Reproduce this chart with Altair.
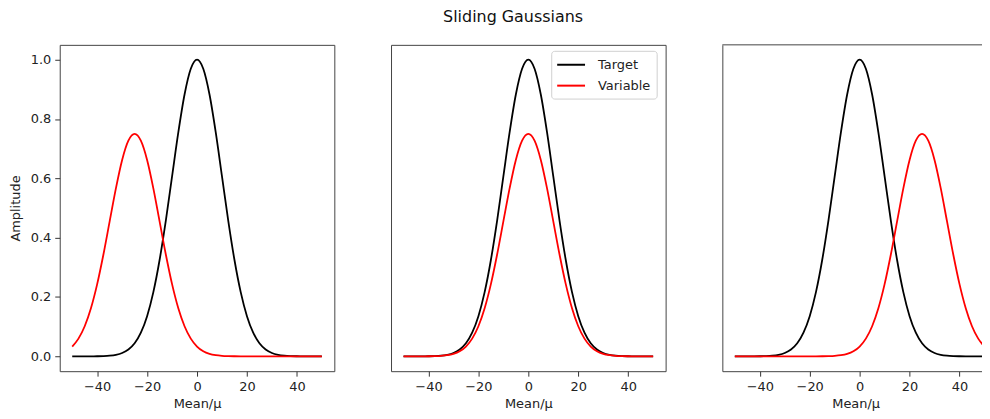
import altair as alt
import pandas as pd

# x positions (Mean / mu) sampled every 2.5 units
x_vals = [-50, -47.5, -45, -42.5, -40, -37.5, -35, -32.5, -30, -27.5, -25, -22.5, -20,
          -17.5, -15, -12.5, -10, -7.5, -5, -2.5, 0, 2.5, 5, 7.5, 10, 12.5, 15, 17.5,
          20, 22.5, 25, 27.5, 30, 32.5, 35, 37.5, 40, 42.5, 45, 47.5, 50]

# Target curve (same in every panel)
target = [0.0000, 0.00001, 0.00004, 0.00012, 0.00034, 0.00088, 0.0022, 0.0051, 0.0111,
          0.0228, 0.0439, 0.0796, 0.1353, 0.2163, 0.3247, 0.4578, 0.6065, 0.7548, 0.8825,
          0.9692, 1.0000, 0.9692, 0.8825, 0.7548, 0.6065, 0.4578, 0.3247, 0.2163, 0.1353,
          0.0796, 0.0439, 0.0228, 0.0111, 0.0051, 0.0022, 0.00088, 0.00034, 0.00012,
          0.00004, 0.00001, 0.0000]

# Variable curve, panel 1 (centred at -25)
variable_left = [0.0330, 0.0597, 0.1015, 0.1622, 0.2435, 0.3434, 0.4549, 0.5661, 0.6619,
                 0.7269, 0.7500, 0.7269, 0.6619, 0.5661, 0.4549, 0.3434, 0.2435, 0.1622,
                 0.1015, 0.0597, 0.0330, 0.0171, 0.0083, 0.0038, 0.0016, 0.0007, 0.0003,
                 0.0001, 0.0000, 0.0000, 0.0000, 0.0000, 0.0000, 0.0000, 0.0000, 0.0000,
                 0.0000, 0.0000, 0.0000, 0.0000, 0.0000]

# Variable curve, panel 2 (centred at 0)
variable_mid = [0.0000, 0.0000, 0.0000, 0.0001, 0.0003, 0.0007, 0.0016, 0.0038, 0.0083,
                0.0171, 0.0330, 0.0597, 0.1015, 0.1622, 0.2435, 0.3434, 0.4549, 0.5661,
                0.6619, 0.7269, 0.7500, 0.7269, 0.6619, 0.5661, 0.4549, 0.3434, 0.2435,
                0.1622, 0.1015, 0.0597, 0.0330, 0.0171, 0.0083, 0.0038, 0.0016, 0.0007,
                0.0003, 0.0001, 0.0000, 0.0000, 0.0000]

# Variable curve, panel 3 (centred at +25)
variable_right = [0.0000, 0.0000, 0.0000, 0.0000, 0.0000, 0.0000, 0.0000, 0.0000, 0.0000,
                  0.0000, 0.0000, 0.0000, 0.0000, 0.0001, 0.0003, 0.0007, 0.0016, 0.0038,
                  0.0083, 0.0171, 0.0330, 0.0597, 0.1015, 0.1622, 0.2435, 0.3434, 0.4549,
                  0.5661, 0.6619, 0.7269, 0.7500, 0.7269, 0.6619, 0.5661, 0.4549, 0.3434,
                  0.2435, 0.1622, 0.1015, 0.0597, 0.0330]

series_names = ["Target", "Variable"]
series_colors = ["black", "red"]
x_ticks = [-40, -20, 0, 20, 40]
y_ticks = [0.0, 0.2, 0.4, 0.6, 0.8, 1.0]

FONT = "DejaVu Sans"
FRAME = "#444"
PW, PH = 276, 328


def make_df(var):
    rows = []
    for xv, yv in zip(x_vals, target):
        rows.append({"x": xv, "y": yv, "series": "Target"})
    for xv, yv in zip(x_vals, var):
        rows.append({"x": xv, "y": yv, "series": "Variable"})
    return pd.DataFrame(rows)


def lines(var, x_domain, y_axis, legend, x_domain_line=False):
    x_enc = alt.X("x:Q", scale=alt.Scale(domain=x_domain, nice=False, zero=False),
                  axis=alt.Axis(values=x_ticks, title="Mean/μ", format="d",
                                domain=x_domain_line, domainColor=FRAME, domainWidth=1))
    y_enc = alt.Y("y:Q", scale=alt.Scale(domain=[-0.05, 1.05], nice=False, zero=False),
                  axis=y_axis)
    c_enc = alt.Color("series:N", scale=alt.Scale(domain=series_names, range=series_colors),
                      legend=legend)
    return alt.Chart(make_df(var)).mark_line(strokeWidth=1.8, interpolate="monotone").encode(
        x=x_enc, y=y_enc, color=c_enc, order=alt.Order("x:Q")
    )


legend_mid = alt.Legend(title=None, orient="none", legendX=161, legendY=6, padding=6,
                        fillColor="white", strokeColor="#d0d0d0", cornerRadius=3,
                        symbolType="M-2,0H2", symbolSize=196, symbolStrokeWidth=2,
                        symbolOffset=6, labelOffset=19,
                        labelFontSize=13, labelFont=FONT, rowPadding=6, labelColor="#222")

p1 = lines(variable_left, [-55, 55],
           alt.Axis(values=y_ticks, format=".1f", title="Amplitude", titlePadding=8),
           None).properties(width=PW, height=PH)

p2 = lines(variable_mid, [-55, 55], None, legend_mid).properties(width=PW, height=PH)

# third panel is cut by the picture's right edge: no right border
p3_lines = lines(variable_right, [-55, 51.8],
                 alt.Axis(labels=False, ticks=False, title=None, domain=True,
                          domainColor=FRAME, domainWidth=1),
                 None, x_domain_line=True)
p3_top = alt.Chart(pd.DataFrame({"top": [1.05]})).mark_rule(color=FRAME, strokeWidth=1).encode(
    y=alt.Y("top:Q", scale=alt.Scale(domain=[-0.05, 1.05], nice=False, zero=False))
)
p3 = alt.layer(p3_lines, p3_top).properties(width=268, height=PH,
                                            view=alt.ViewBackground(stroke=None))

chart = alt.hconcat(p1, p2, p3, spacing=55).resolve_legend(color="independent").properties(
    title=alt.TitleParams("Sliding Gaussians", fontSize=16, font=FONT, fontWeight="normal",
                          anchor="middle", offset=19, color="#111", dx=14),
    padding={"left": 0, "top": 0, "right": -8, "bottom": 0},
).configure_view(
    stroke=FRAME, strokeWidth=1
).configure_axis(
    domain=False, grid=False, ticks=True, tickColor="#333", tickSize=5, labelPadding=4,
    labelFont=FONT, titleFont=FONT, labelFontSize=13, titleFontSize=13,
    titleFontWeight="normal", labelColor="#222", titleColor="#222"
).configure_axisX(titlePadding=5)

chart.save("out.html", embed_options={"renderer": "svg", "actions": False})
